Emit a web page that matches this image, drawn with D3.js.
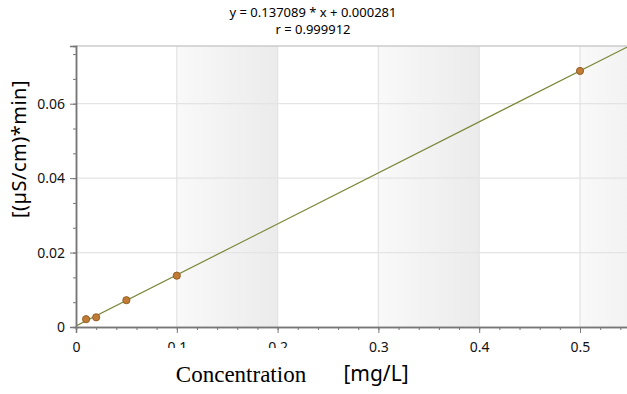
<!DOCTYPE html>
<html>
<head>
<meta charset="utf-8">
<script src="https://cdn.jsdelivr.net/npm/d3@7"></script>
<style>
  body { margin: 0; background: #fff; }
  text { font-family: "Noto Sans", sans-serif; }
</style>
</head>
<body>
<div id="chart"></div>
<script>
// calibration data
const concentration = [0.01, 0.02, 0.05, 0.1, 0.5];
const area = [0.0021, 0.0026, 0.0072, 0.0138, 0.0688];
const slope = 0.137089;
const offset = 0.000281;
const xTicks = [0, 0.1, 0.2, 0.3, 0.4, 0.5];
const yTicks = [0, 0.02, 0.04, 0.06];
const bands = [[0.1, 0.2], [0.3, 0.4], [0.5, 0.6]];

const width = 627, height = 394;
const margin = { left: 76, top: 46, bottom: 327 };

const svg = d3.select("#chart").append("svg")
  .attr("width", width)
  .attr("height", height);

const x = d3.scaleLinear().domain([0, 0.55]).range([margin.left, margin.left + 0.55 * 1008]);
const y = d3.scaleLinear().domain([0, 0.0755]).range([margin.bottom, margin.top]);

// gradient for the shaded bands
const defs = svg.append("defs");
const grad = defs.append("linearGradient").attr("id", "band").attr("x1", "0").attr("x2", "1");
grad.append("stop").attr("offset", "0").attr("stop-color", "#f9f9f9");
grad.append("stop").attr("offset", "1").attr("stop-color", "#ebebeb");

defs.append("clipPath").attr("id", "plot")
  .append("rect")
  .attr("x", margin.left).attr("y", margin.top)
  .attr("width", x(0.55) - margin.left).attr("height", margin.bottom - margin.top);

// the 0.1 and 0.2 labels are cut off in the original
defs.append("clipPath").attr("id", "cut")
  .append("rect")
  .attr("x", -30).attr("y", 0).attr("width", 60).attr("height", 21);

const plot = svg.append("g").attr("clip-path", "url(#plot)");

plot.selectAll("rect.band")
  .data(bands)
  .enter().append("rect")
  .attr("class", "band")
  .attr("x", d => x(d[0]))
  .attr("y", margin.top)
  .attr("width", d => x(d[1]) - x(d[0]))
  .attr("height", margin.bottom - margin.top)
  .attr("fill", "url(#band)");

// grid lines
plot.selectAll("line.vgrid")
  .data(xTicks.slice(1))
  .enter().append("line")
  .attr("x1", d => x(d)).attr("x2", d => x(d))
  .attr("y1", margin.top).attr("y2", margin.bottom)
  .attr("stroke", "#e4e4e4").attr("stroke-width", 1.3);

plot.selectAll("line.hgrid")
  .data(yTicks.slice(1))
  .enter().append("line")
  .attr("x1", margin.left).attr("x2", width)
  .attr("y1", d => y(d)).attr("y2", d => y(d))
  .attr("stroke", "#e4e4e4").attr("stroke-width", 1.3);

// top border
svg.append("line")
  .attr("x1", margin.left).attr("x2", width)
  .attr("y1", margin.top).attr("y2", margin.top)
  .attr("stroke", "#cbcbcb").attr("stroke-width", 1.5);

// fit line
plot.append("path")
  .datum([0, 0.55])
  .attr("d", d3.line().x(d => x(d)).y(d => y(slope * d + offset)))
  .attr("stroke", "#7b8738")
  .attr("stroke-width", 1.2)
  .attr("fill", "none");

// points
plot.selectAll("circle")
  .data(concentration)
  .enter().append("circle")
  .attr("cx", d => x(d))
  .attr("cy", (d, i) => y(area[i]))
  .attr("r", 3.6)
  .attr("fill", "#c27b35")
  .attr("stroke", "#8b5a24")
  .attr("stroke-width", 0.9);

// axes
const xAxis = svg.append("g")
  .attr("transform", `translate(0,${margin.bottom})`)
  .call(d3.axisBottom(x).tickValues(d3.range(0, 0.551, 0.02)).tickSize(3).tickFormat(""));
xAxis.append("g").call(d3.axisBottom(x).tickValues(xTicks).tickSize(6).tickFormat(d3.format("")));
xAxis.selectAll(".domain").attr("stroke", "#777").attr("stroke-width", 1.5);
xAxis.selectAll("line").attr("stroke", "#777");
xAxis.selectAll("text")
  .attr("font-size", 14).attr("fill", "#111")
  .attr("y", 25).attr("dy", 0)
  .attr("font-family", "Noto Sans")
  .attr("clip-path", d => (d === 0.1 || d === 0.2) ? "url(#cut)" : null);

const yAxis = svg.append("g")
  .attr("transform", `translate(${margin.left},0)`)
  .call(d3.axisLeft(y).tickValues(d3.range(0, 0.0755, 0.02 / 3)).tickSize(3).tickFormat(""));
yAxis.append("g").call(d3.axisLeft(y).tickValues(yTicks).tickSize(6).tickFormat(d => d === 0 ? "0" : d3.format(".2f")(d)));
yAxis.selectAll(".domain").attr("stroke", "#777").attr("stroke-width", 1.5);
yAxis.selectAll("line").attr("stroke", "#777");
yAxis.selectAll("text").attr("font-size", 14).attr("fill", "#111").attr("x", -11)
  .attr("font-family", "Noto Sans");

// titles
svg.append("text")
  .attr("x", 313).attr("y", 17)
  .attr("text-anchor", "middle").attr("font-size", 13)
  .text(`y = ${slope} * x + ${offset.toFixed(6)}`);
svg.append("text")
  .attr("x", 313).attr("y", 34)
  .attr("text-anchor", "middle").attr("font-size", 13)
  .text("r = 0.999912");

svg.append("text")
  .attr("transform", "translate(26,149) rotate(-90)")
  .attr("text-anchor", "middle").attr("font-size", 20)
  .attr("letter-spacing", 0.5)
  .text("[(µS/cm)*min]");

svg.append("text")
  .attr("x", 241).attr("y", 382)
  .attr("text-anchor", "middle").attr("font-size", 23)
  .style("font-family", "Liberation Serif, serif")
  .text("Concentration");
svg.append("text")
  .attr("x", 376).attr("y", 381)
  .attr("text-anchor", "middle").attr("font-size", 21)
  .text("[mg/L]");
</script>
</body>
</html>
